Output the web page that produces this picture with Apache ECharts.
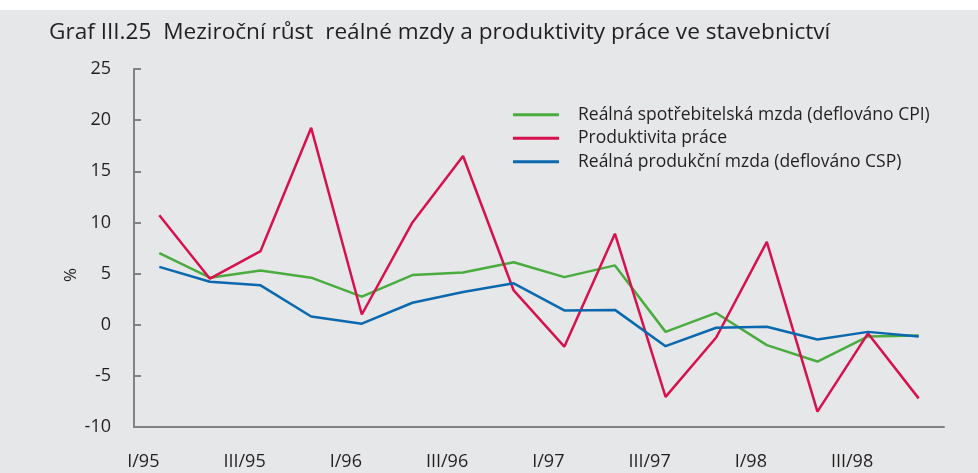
<!DOCTYPE html>
<html><head><meta charset="utf-8">
<script src="https://cdn.jsdelivr.net/npm/echarts@6/dist/echarts.min.js"></script>
<style>html,body{margin:0;padding:0;background:#fff}#c{width:978px;height:473px}</style>
</head><body><div id="c"></div>
<script>
const categories = ['I/95','II/95','III/95','IV/95','I/96','II/96','III/96','IV/96','I/97','II/97','III/97','IV/97','I/98','II/98','III/98','IV/98'];
const cpiWage = [7.0, 4.6, 5.3, 4.6, 2.75, 4.85, 5.1, 6.1, 4.65, 5.8, -0.7, 1.15, -2.0, -3.6, -1.15, -1.05];
const productivity = [10.7, 4.5, 7.2, 19.25, 1.0, 10.0, 16.5, 3.35, -2.15, 8.9, -7.05, -1.25, 8.1, -8.5, -0.85, -7.2];
const cspWage = [5.65, 4.2, 3.85, 0.8, 0.1, 2.15, 3.2, 4.05, 1.4, 1.45, -2.1, -0.3, -0.2, -1.45, -0.7, -1.15];
const seriesNames = ['Reálná spotřebitelská mzda (deflováno CPI)', 'Produktivita práce', 'Reálná produkční mzda (deflováno CSP)'];
const yTicks = {min: -10, max: 25, interval: 5};

const font = 'Open Sans';
const chart = echarts.init(document.getElementById('c'));
const axisColor = '#808285';
chart.setOption({
  backgroundColor: '#ffffff',
  animation: false,
  graphic: [{type: 'rect', shape: {x: 0, y: 10, width: 978, height: 463}, style: {fill: '#e6e7e8'}, z: -10}],
  title: {text: 'Graf III.25  Meziroční růst  reálné mzdy a produktivity práce ve stavebnictví', left: 44, top: 16,
    textStyle: {fontFamily: font, fontSize: 22.6, fontWeight: 'normal', color: '#231f20'}},
  legend: {orient: 'vertical', left: 508, top: 100, itemWidth: 46, itemHeight: 3, itemGap: 4,
    icon: 'rect',
    textStyle: {fontFamily: font, fontSize: 17.5, lineHeight: 19.5, color: '#231f20', padding: [0, 0, 0, 14]},
    data: seriesNames},
  grid: {left: 134, right: 34, top: 69, bottom: 46},
  xAxis: {type: 'category', data: categories, boundaryGap: true,
    axisLine: {onZero: false, lineStyle: {color: axisColor, width: 2}},
    axisTick: {inside: true, length: 7, lineStyle: {color: axisColor, width: 2}, interval: 0},
    axisLabel: {interval: 1, margin: 26, fontFamily: font, fontSize: 18, color: '#231f20', padding: [0, 32, 0, 0]}},
  yAxis: {type: 'value', min: yTicks.min, max: yTicks.max, interval: yTicks.interval,
    name: '%', nameLocation: 'middle', nameGap: 54, nameRotate: 90, nameMoveOverlap: false,
    nameTextStyle: {fontFamily: font, fontSize: 17, color: '#231f20', padding: [0, 54, 0, 0]},
    splitLine: {show: false},
    axisLine: {show: true, lineStyle: {color: axisColor, width: 2}},
    axisTick: {show: true, inside: true, length: 7, lineStyle: {color: axisColor, width: 2}},
    axisLabel: {margin: 23, fontFamily: font, fontSize: 18, color: '#231f20'}},
  series: [
    {name: seriesNames[0], type: 'line', data: cpiWage, symbol: 'none', lineStyle: {color: '#4aac3f', width: 2.5}, itemStyle: {color: '#4aac3f'}},
    {name: seriesNames[1], type: 'line', data: productivity, symbol: 'none', lineStyle: {color: '#d7114e', width: 2.5}, itemStyle: {color: '#d7114e'}},
    {name: seriesNames[2], type: 'line', data: cspWage, symbol: 'none', lineStyle: {color: '#0a69ae', width: 2.5}, itemStyle: {color: '#0a69ae'}}
  ]
});
</script></body></html>
